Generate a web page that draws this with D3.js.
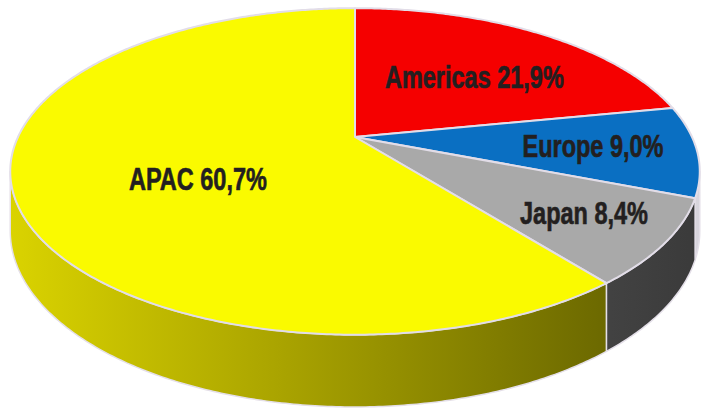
<!DOCTYPE html>
<html>
<head>
<meta charset="utf-8">
<script src="https://cdn.jsdelivr.net/npm/d3@7"></script>
<style>
  html, body { margin: 0; padding: 0; background: #fff; }
  svg { display: block; }
  .label { font-family: "Liberation Sans", Arial, sans-serif;
           font-weight: bold; font-size: 29px; fill: #231f20;
           stroke: #231f20; stroke-width: 0.6px; }
</style>
</head>
<body>
<div id="chart"></div>
<script>
// 3D perspective pie: regional split
const regions = ["Americas", "Europe", "Japan", "APAC"];
const shares = [21.9, 9.0, 8.4, 60.7];
const shareLabels = ["21,9%", "9,0%", "8,4%", "60,7%"];

const topColors = { Americas: "#f50000", Europe: "#0a6fc2", Japan: "#a9a9a9", APAC: "#fafa00" };
const sideColors = { Americas: "#8a0000", Europe: "#d8d5dd", Japan: "url(#gradJapan)", APAC: "url(#gradApac)" };
// label placement: t = position across the slice (0..1), r = fraction of radius
const labelPlace = {
  Americas: { t: 0.54, r: 0.57 },
  Europe: { t: 0.49, r: 0.70 },
  Japan: { t: 0.485, r: 0.76 },
  APAC: { t: 0.45, r: 0.51 }
};

const W = 704, H = 409;
// projection of a tilted disc seen in perspective
const cx = 355, cy = 137, a = 337, b = 156, k = 0.211, depth = 57;
const narrow = 0.81; // labels are set in a condensed bold face

function proj(theta, r, dz) {
  const u = r * Math.sin(theta), v = r * Math.cos(theta);
  const den = 1 + k * v;
  return [cx + a * u / den, cy - b * v / den + dz / den];
}

function arcPoints(t0, t1, r, dz) {
  const n = Math.max(2, Math.ceil(Math.abs(t1 - t0) / 0.01));
  return d3.range(n + 1).map(i => proj(t0 + (t1 - t0) * i / n, r, dz));
}

const svg = d3.select("#chart")
  .append("svg")
  .attr("width", W)
  .attr("height", H);

const defs = svg.append("defs");
const gA = defs.append("linearGradient").attr("id", "gradApac")
  .attr("gradientUnits", "userSpaceOnUse")
  .attr("x1", 10).attr("y1", 0).attr("x2", 605).attr("y2", 0);
gA.append("stop").attr("offset", "0%").attr("stop-color", "#dad300");
gA.append("stop").attr("offset", "45%").attr("stop-color", "#aaa400");
gA.append("stop").attr("offset", "100%").attr("stop-color", "#6c6900");
const gJ = defs.append("linearGradient").attr("id", "gradJapan")
  .attr("gradientUnits", "userSpaceOnUse")
  .attr("x1", 600).attr("y1", 0).attr("x2", 700).attr("y2", 0);
gJ.append("stop").attr("offset", "0%").attr("stop-color", "#434343");
gJ.append("stop").attr("offset", "100%").attr("stop-color", "#3a3a3a");

const data = regions.map((r, i) => ({ region: r, value: shares[i], label: shareLabels[i] }));
const arcs = d3.pie().sort(null).value(d => d.value)(data);

const line = d3.line();

// visible side wall: between the two silhouette angles
const silR = Math.acos(-k), silL = 2 * Math.PI - Math.acos(-k);

const walls = svg.append("g");
arcs.forEach(d => {
  const s = Math.max(d.startAngle, silR), e = Math.min(d.endAngle, silL);
  if (e <= s) return;
  const pts = arcPoints(s, e, 1, 0).concat(arcPoints(e, s, 1, depth));
  walls.append("path")
    .attr("d", line(pts) + "Z")
    .attr("fill", sideColors[d.data.region])
    .attr("stroke", "#e4dfe8")
    .attr("stroke-width", 1.5)
    .attr("stroke-linejoin", "round");
});

const tops = svg.append("g");
arcs.forEach(d => {
  const pts = [proj(0, 0, 0)].concat(arcPoints(d.startAngle, d.endAngle, 1, 0));
  tops.append("path")
    .attr("d", line(pts) + "Z")
    .attr("fill", topColors[d.data.region])
    .attr("stroke", "#e2dde8")
    .attr("stroke-width", 2)
    .attr("stroke-linejoin", "round");
});

svg.append("g").selectAll("text")
  .data(arcs)
  .join("text")
  .attr("class", "label")
  .attr("text-anchor", "middle")
  .attr("dy", "0.35em")
  .attr("transform", d => {
    const lp = labelPlace[d.data.region];
    const ang = d.startAngle + (d.endAngle - d.startAngle) * lp.t;
    const p = proj(ang, lp.r, 0);
    return `translate(${p[0]},${p[1]}) scale(${narrow},1.05)`;
  })
  .text(d => `${d.data.region} ${d.data.label}`);
</script>
</body>
</html>
